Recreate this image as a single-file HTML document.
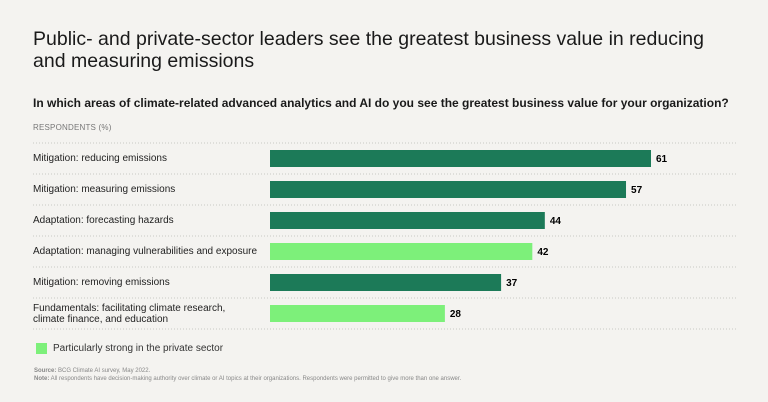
<!DOCTYPE html>
<html><head><meta charset="utf-8"><style>
body{margin:0;width:768px;height:402px;background:#f4f3f0;font-family:"Liberation Sans",sans-serif;color:#222;position:relative;overflow:hidden}
.t{position:absolute;left:33px;top:28px;font-size:19.5px;line-height:22px;color:#1a1a1a;width:700px}
.s{position:absolute;left:33px;top:96px;font-size:12px;font-weight:bold;color:#1a1a1a}
.r{position:absolute;left:33px;top:123px;font-size:8px;color:#777;letter-spacing:.2px}
.l{position:absolute;left:33px;font-size:10px;color:#222;line-height:11px}
.f{position:absolute;left:34px;font-size:6px;color:#888}
</style></head><body>
<div class="t">Public- and private-sector leaders see the greatest business value in reducing and measuring emissions</div>
<div class="s">In which areas of climate-related advanced analytics and AI do you see the greatest business value for your organization?</div>
<div class="r">RESPONDENTS (%)</div>
<svg id="c" width="768" height="402" style="position:absolute;left:0;top:0"></svg>
<div style="position:absolute;left:36px;top:343px;width:11px;height:11px;background:#7df07a"></div>
<div style="position:absolute;left:53px;top:343px;font-size:10px;color:#333">Particularly strong in the private sector</div>
<div class="f" style="top:368px"><b>Source:</b> BCG Climate AI survey, May 2022.</div>
<div class="f" style="top:376px"><b>Note:</b> All respondents have decision-making authority over climate or AI topics at their organizations. Respondents were permitted to give more than one answer.</div>
<script>
const categories=["Mitigation: reducing emissions","Mitigation: measuring emissions","Adaptation: forecasting hazards","Adaptation: managing vulnerabilities and exposure","Mitigation: removing emissions","Fundamentals: facilitating climate research,|climate finance, and education"];
const values=[61,57,44,42,37,28];
const privateStrong=[false,false,false,true,false,true];
const svg=document.getElementById('c');
const NS='http://www.w3.org/2000/svg';
const x=v=>270+v*381/61;
const y=i=>143+i*31;
for(let i=0;i<=categories.length;i++){
 const ln=document.createElementNS(NS,'line');
 
 
 ln.setAttribute('x1',33);ln.setAttribute('x2',738);ln.setAttribute('y1',y(i));ln.setAttribute('y2',y(i));
 ln.setAttribute('stroke','#c8c8c4');ln.setAttribute('stroke-dasharray','1 2');svg.appendChild(ln);
}
categories.forEach((c,i)=>{
 const r=document.createElementNS(NS,'rect');
 
 
 r.setAttribute('x',x(0));r.setAttribute('y',y(i)+7);r.setAttribute('width',x(values[i])-x(0));r.setAttribute('height',17);
 r.setAttribute('fill',privateStrong[i]?'#7df07a':'#1c7a58');svg.appendChild(r);
 const t=document.createElementNS(NS,'text');
 
 
 t.setAttribute('x',x(values[i])+5);t.setAttribute('y',y(i)+19);t.setAttribute('font-size','10');t.setAttribute('font-weight','bold');
 t.setAttribute('font-family','Liberation Sans, sans-serif');t.textContent=values[i];svg.appendChild(t);
 const d=document.createElement('div');
 
 
 d.className='l';const parts=c.split('|');
 d.innerHTML=parts.join('<br>');
 d.style.top=(y(i)+(parts.length>1?5:10))+'px';document.body.appendChild(d);
});
</script>
</body></html>
